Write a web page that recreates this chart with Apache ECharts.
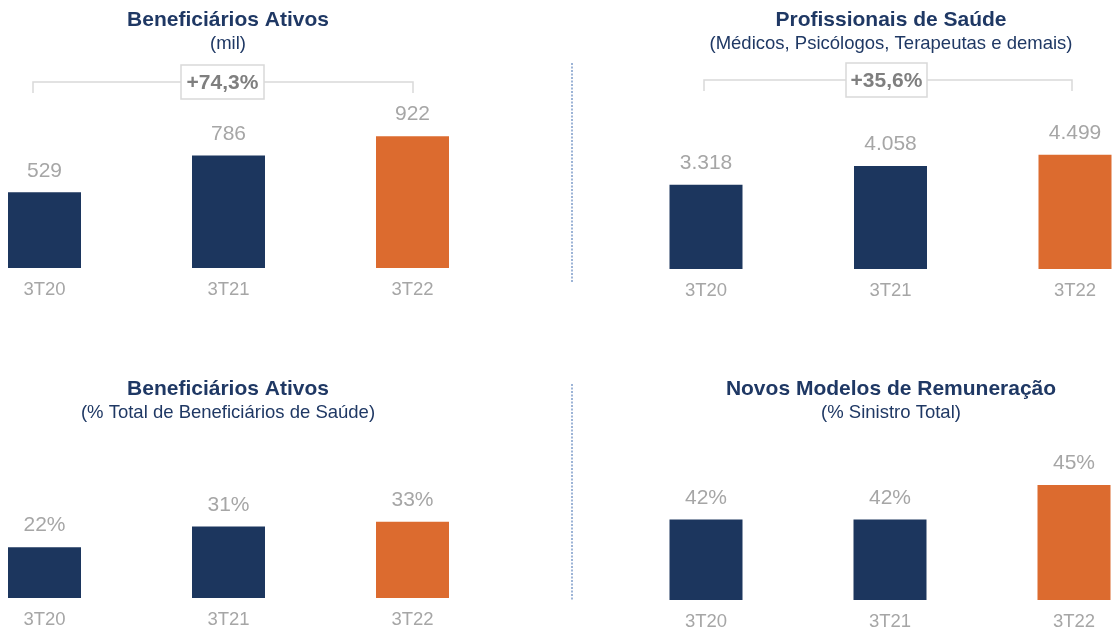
<!DOCTYPE html>
<html>
<head>
<meta charset="utf-8">
<script src="https://cdn.jsdelivr.net/npm/echarts@6/dist/echarts.min.js"></script>
<style>
  * { margin: 0; padding: 0; }
  body { background: #fff; }
  #chart { width: 1112px; height: 629px; }
</style>
</head>
<body>
<div id="chart"></div>
<script>
// dados
const categories = ['3T20', '3T21', '3T22'];
const beneficiarios = [529, 786, 922];
const profissionais = [3318, 4058, 4499];
const beneficiariosPct = [22, 31, 33];
const remuneracaoPct = [42, 42, 45];
const barColors = ['#1c365e', '#1c365e', '#dc6b2f'];

const FONT = "'Liberation Sans', Arial, sans-serif";
const NAVY = '#1f3864';
const GRAY = '#a6a6a6';

function milhar(v) {
  return String(v).replace(/\B(?=(\d{3})+(?!\d))/g, '.');
}

// grids: left/top/width/height em px (podem passar da borda)
const grids = [
  { left: -47.5, top: 125, width: 552, height: 143 },
  { left: 613.75, top: 142, width: 553.5, height: 127 },
  { left: -47.5, top: 482.5, width: 552, height: 115.5 },
  { left: 614, top: 485, width: 552, height: 115 }
];
const yRanges = [[0, 1000], [0, 5000], [0, 50], [35, 45]];
const seriesData = [beneficiarios, profissionais, beneficiariosPct, remuneracaoPct];
const formatters = [
  p => String(p.value),
  p => milhar(p.value),
  p => p.value + '%',
  p => p.value + '%'
];

function titleText(x, y, text, bold) {
  return {
    type: 'text', x: x, y: y,
    style: {
      text: text, fill: NAVY, align: 'center', verticalAlign: 'middle',
      fontFamily: FONT, fontSize: bold ? 21 : 18.5, fontWeight: bold ? 'bold' : 'normal'
    }
  };
}

function bracket(x1, x2, y, boxX1, boxX2, label) {
  const lineStyle = { stroke: '#d9d9d9', lineWidth: 1.5, fill: null };
  return [
    { type: 'polyline', shape: { points: [[x1, y + 11], [x1, y], [x2, y], [x2, y + 11]] }, style: lineStyle },
    { type: 'rect', shape: { x: boxX1, y: y - 17, width: boxX2 - boxX1, height: 34 },
      style: { fill: '#fff', stroke: '#d9d9d9', lineWidth: 1.5 } },
    { type: 'text', x: (boxX1 + boxX2) / 2, y: y + 1,
      style: { text: label, fill: '#7f7f7f', align: 'center', verticalAlign: 'middle',
        fontFamily: FONT, fontSize: 21, fontWeight: 'bold' } }
  ];
}

function divider(x, y1, y2) {
  return { type: 'line', shape: { x1: x, y1: y1, x2: x, y2: y2 },
    style: { stroke: '#9db4d6', lineWidth: 2, lineDash: [2, 1.5] } };
}

const chart = echarts.init(document.getElementById('chart'));
const option = {
  backgroundColor: '#fff',
  animation: false,
  grid: grids.map(g => Object.assign({ containLabel: false, outerBoundsMode: 'none' }, g)),
  xAxis: grids.map((g, i) => ({
    type: 'category', gridIndex: i, data: categories,
    axisLine: { show: false }, axisTick: { show: false },
    axisLabel: { color: GRAY, fontSize: 18.5, fontFamily: FONT, margin: 12 }
  })),
  yAxis: yRanges.map((r, i) => ({
    type: 'value', gridIndex: i, min: r[0], max: r[1], show: false,
    splitLine: { show: false }
  })),
  series: seriesData.map((d, i) => ({
    type: 'bar', xAxisIndex: i, yAxisIndex: i, data: d, barWidth: 73, clip: true,
    itemStyle: { color: p => barColors[p.dataIndex] },
    label: {
      show: true, position: 'top', distance: 11, color: GRAY,
      fontSize: 21, fontFamily: FONT, formatter: formatters[i]
    }
  })),
  graphic: [
    titleText(228, 20, 'Beneficiários Ativos', true),
    titleText(228, 44, '(mil)', false),
    titleText(891, 20, 'Profissionais de Saúde', true),
    titleText(891, 44, '(Médicos, Psicólogos, Terapeutas e demais)', false),
    titleText(228, 389, 'Beneficiários Ativos', true),
    titleText(228, 413, '(% Total de Beneficiários de Saúde)', false),
    titleText(891, 389, 'Novos Modelos de Remuneração', true),
    titleText(891, 413, '(% Sinistro Total)', false),
    divider(572, 63, 282),
    divider(572, 384, 601)
  ].concat(
    bracket(33, 413, 82, 181, 264, '+74,3%'),
    bracket(704, 1072, 80, 846, 927, '+35,6%')
  )
};
chart.setOption(option);
</script>
</body>
</html>
